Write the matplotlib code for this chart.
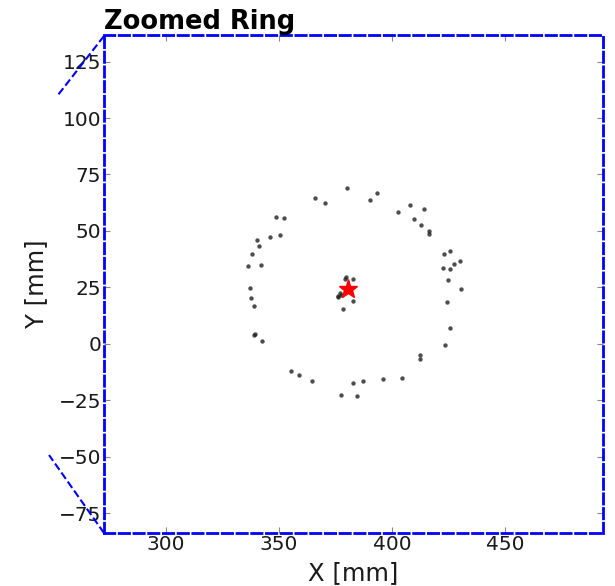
import matplotlib.pyplot as plt
from matplotlib.lines import Line2D

# Hits on the ring (x, y in mm)
ring_x = [380.2, 366.0, 370.3, 393.4, 390.3, 402.4, 407.7, 414.0, 409.8, 412.7,
          416.1, 416.5, 348.5, 352.4, 350.5, 346.1, 340.4, 341.2, 338.2, 336.2,
          342.1, 422.9, 425.7, 429.8, 427.2, 422.7, 425.4, 424.7, 430.4, 424.1,
          425.8, 423.3, 412.3, 412.3, 337.3, 337.7, 339.0, 339.5, 339.0, 342.4,
          355.2, 358.9, 364.7, 382.7, 387.2, 395.9, 404.3, 377.5, 384.7]
ring_y = [69.2, 64.7, 62.5, 66.8, 63.9, 58.5, 61.6, 59.6, 55.3, 52.6,
          49.8, 48.5, 56.2, 55.6, 48.2, 47.5, 45.8, 43.3, 39.6, 34.5,
          34.9, 39.8, 41.3, 36.7, 35.2, 33.4, 33.0, 28.4, 24.1, 18.4,
          7.1, -0.7, -4.8, -6.9, 24.7, 20.1, 16.9, 4.5, 3.7, 1.4,
          -12.2, -13.8, -16.6, -17.5, -16.5, -15.8, -15.2, -22.9, -23.0]

# Hits near the centre
core_x = [379.7, 379.1, 382.7, 377.1, 376.3, 375.9, 377.6, 382.9, 378.2]
core_y = [29.7, 28.8, 28.6, 22.4, 21.2, 20.6, 21.6, 18.9, 15.3]

# Fitted ring centre
center_x = 380.3
center_y = 24.3

x_range = (272.7, 493.2)
y_range = (-83.7, 136.8)

fig = plt.figure(figsize=(6.15, 5.86), dpi=100)
ax = fig.add_axes([0.16911, 0.09096, 0.81138, 0.84932])

ax.scatter(ring_x + core_x, ring_y + core_y, s=10, color='#222222', alpha=0.8,
           linewidths=0, zorder=2)
ax.plot(center_x, center_y, marker='*', color='red', markersize=14,
        linestyle='none', zorder=3)

ax.set_xlim(*x_range)
ax.set_ylim(*y_range)
ax.set_xticks([300, 350, 400, 450])
ax.set_yticks([-75, -50, -25, 0, 25, 50, 75, 100, 125])

ax.tick_params(direction='in', length=4, width=0.8, color='#888888',
               top=True, right=True, labelsize=14.5, labelcolor='#1a1a1a', pad=2)

for spine in ax.spines.values():
    spine.set_color('blue')
    spine.set_linestyle('--')
    spine.set_linewidth(2)

ax.set_xlabel('X [mm]', fontsize=17.5, color='#1a1a1a', labelpad=5)
ax.set_ylabel('Y [mm]', fontsize=17.5, color='#1a1a1a', labelpad=8)
ax.set_title('Zoomed Ring', loc='left', fontsize=18.5, fontweight='bold', pad=4)

# connector lines of the zoom box (they lead out of the cropped figure)
fig.add_artist(Line2D([0.1691, 0.0943], [0.9386, 0.8379], transform=fig.transFigure,
                      color='blue', linestyle='--', linewidth=1.5))
fig.add_artist(Line2D([0.1691, 0.0797], [0.0904, 0.2235], transform=fig.transFigure,
                      color='blue', linestyle='--', linewidth=1.5))

fig.savefig('out.png', dpi=100)
